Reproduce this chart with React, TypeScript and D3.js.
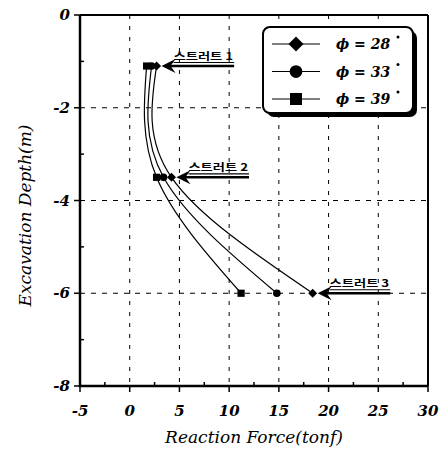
import React from "react";
import * as d3 from "d3";

const depths = [-1.1, -3.5, -6];
const seriesNames = ["28", "33", "39"];
const seriesValues = [
  [2.7, 4.2, 18.4],
  [2.2, 3.4, 14.8],
  [1.7, 2.7, 11.2],
];
const markerTypes = ["diamond", "circle", "square"];
const strutLabels = ["스트러트 1", "스트러트 2", "스트러트 3"];
const xTicks = [-5, 0, 5, 10, 15, 20, 25, 30];
const xMinor = [-2.5, 2.5, 7.5, 12.5, 17.5, 22.5, 27.5];
const yTicks = [0, -2, -4, -6, -8];
const yMinor = [-1, -3, -5, -7];
const xGrid = [0, 5, 10, 15, 20, 25];
const yGrid = [-2, -4, -6];

const W = 441;
const H = 455;
const L = 80, R = 428, T = 15, B = 386;
const FONT = "'DejaVu Serif'";

function Marker({ type, x, y, s }: { type: string; x: number; y: number; s: number }) {
  if (type === "diamond")
    return <path d={`M${x},${y - s}L${x + s},${y}L${x},${y + s}L${x - s},${y}Z`} fill="#000" />;
  if (type === "circle") return <circle cx={x} cy={y} r={s * 0.85} fill="#000" />;
  return <rect x={x - s * 0.8} y={y - s * 0.8} width={s * 1.6} height={s * 1.6} fill="#000" />;
}

export default function App() {
  const x = d3.scaleLinear().domain([-5, 30]).range([L, R]);
  const y = d3.scaleLinear().domain([-8, 0]).range([B, T]);
  const line = d3
    .line<number>()
    .x((v) => x(v))
    .y((_, i) => y(depths[i]))
    .curve(d3.curveNatural);

  return (
    <svg width={W} height={H} style={{ position: "absolute", left: 0, top: 0, background: "#fff" }}>
      <rect width={W} height={H} fill="#fff" />
      {xGrid.map((g) => (
        <line key={"gx" + g} x1={x(g)} x2={x(g)} y1={T} y2={B} stroke="#000" strokeWidth={1} strokeDasharray="4,7" />
      ))}
      {yGrid.map((g) => (
        <line key={"gy" + g} x1={L} x2={R} y1={y(g)} y2={y(g)} stroke="#000" strokeWidth={1} strokeDasharray="5,6" />
      ))}
      <line x1={L} x2={R} y1={T} y2={T} stroke="#000" strokeWidth={2} />
      <line x1={R} x2={R} y1={T} y2={B} stroke="#000" strokeWidth={2} />
      <line x1={L} x2={L} y1={T} y2={B + 1} stroke="#000" strokeWidth={2.5} />
      <line x1={L - 1} x2={R} y1={B} y2={B} stroke="#000" strokeWidth={2.5} />
      {xTicks.map((t) => (
        <line key={"xt" + t} x1={x(t)} x2={x(t)} y1={B} y2={B + 6} stroke="#000" strokeWidth={1.5} />
      ))}
      {xMinor.map((t) => (
        <line key={"xm" + t} x1={x(t)} x2={x(t)} y1={B} y2={B - 4} stroke="#000" strokeWidth={1.5} />
      ))}
      {yTicks.map((t) => (
        <line key={"yt" + t} x1={L - 6} x2={L} y1={y(t)} y2={y(t)} stroke="#000" strokeWidth={1.5} />
      ))}
      {yMinor.map((t) => (
        <line key={"ym" + t} x1={L} x2={L + 4} y1={y(t)} y2={y(t)} stroke="#000" strokeWidth={1.5} />
      ))}
      {xTicks.map((t) => (
        <text key={"xl" + t} x={x(t)} y={B + 30} textAnchor="middle" fontFamily={FONT} fontStyle="italic" fontWeight="bold" fontSize={15}>
          {t}
        </text>
      ))}
      {yTicks.map((t) => (
        <text key={"yl" + t} x={L - 10} y={y(t) + 5} textAnchor="end" fontFamily={FONT} fontStyle="italic" fontWeight="bold" fontSize={15}>
          {t}
        </text>
      ))}
      <text x={(L + R) / 2} y={443} textAnchor="middle" fontFamily={FONT} fontStyle="italic" fontSize={17}>
        Reaction Force(tonf)
      </text>
      <text transform={`translate(31,${(T + B) / 2 + 15}) rotate(-90)`} textAnchor="middle" fontFamily={FONT} fontStyle="italic" fontSize={17}>
        Excavation Depth(m)
      </text>
      {seriesValues.map((vals, i) => (
        <path key={"c" + i} d={line(vals) || ""} fill="none" stroke="#000" strokeWidth={1.2} />
      ))}
      {seriesValues.map((vals, i) =>
        vals.map((v, j) => <Marker key={`m${i}-${j}`} type={markerTypes[i]} x={x(v)} y={y(depths[j])} s={4.5} />)
      )}
      {depths.map((d, j) => {
        const tip = x(seriesValues[0][j] + 0.5);
        const end = x(seriesValues[0][j] + 7.8);
        const yy = y(d);
        return (
          <g key={"a" + j}>
            <line x1={tip + 8} x2={end} y1={yy} y2={yy} stroke="#000" strokeWidth={2.5} />
            <path d={`M${tip},${yy}L${tip + 14},${yy - 7}L${tip + 9},${yy}L${tip + 14},${yy + 7}Z`} fill="#000" />
            <text x={tip + 12} y={yy - 6} fontFamily="'Noto Sans CJK KR', sans-serif" fontWeight="bold" fontSize={10} textLength={end - tip - 13} lengthAdjust="spacingAndGlyphs">
              {strutLabels[j]}
            </text>
            <line x1={tip + 12} x2={end} y1={yy - 3.5} y2={yy - 3.5} stroke="#000" strokeWidth={1.2} />
          </g>
        );
      })}
      <rect x={267} y={31} width={150} height={86} rx={7} fill="#000" />
      <rect x={263} y={27} width={150} height={86} rx={7} fill="#fff" stroke="#000" strokeWidth={2} />
      {seriesNames.map((n, i) => {
        const ly = 44 + i * 27.5;
        return (
          <g key={"lg" + i}>
            <line x1={272} x2={320} y1={ly} y2={ly} stroke="#000" strokeWidth={1.2} />
            <Marker type={markerTypes[i]} x={296} y={ly} s={7.5} />
            <text x={336} y={ly + 5} fontFamily={FONT} fontStyle="italic" fontWeight="bold" fontSize={14}>
              {"ϕ = " + n}
            </text>
            <circle cx={398} cy={ly - 7} r={1.5} fill="#000" />
          </g>
        );
      })}
    </svg>
  );
}
